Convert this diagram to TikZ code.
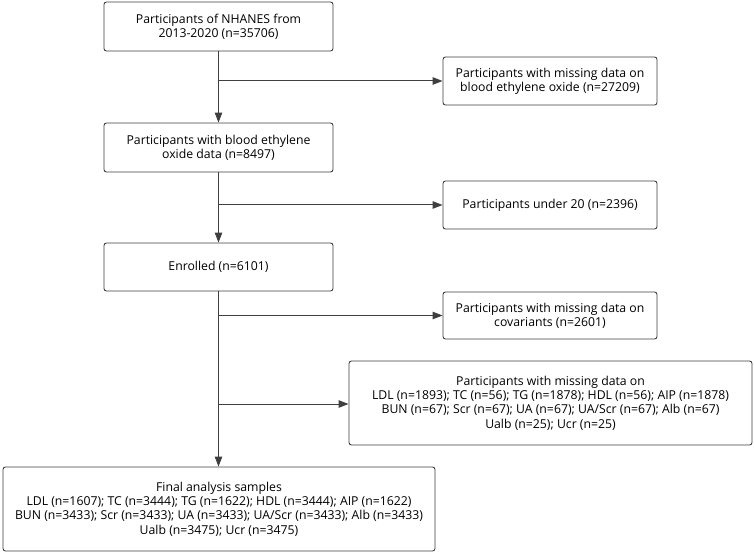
\documentclass[tikz,border=0pt]{standalone}
\usepackage{fontspec}
\setmainfont{Open Sans}
\usetikzlibrary{arrows.meta}
\definecolor{linegray}{HTML}{3F3F3F}
\begin{document}
\begin{tikzpicture}[x=1bp,y=-1bp,
	box/.style={draw=linegray, line width=0.9bp, rounded corners=2.5bp, fill=white, align=center, inner sep=0pt, text=black, font=\fontsize{12.3}{14.4}\selectfont},
	arr/.style={draw=linegray, line width=1bp, -{Triangle[length=10bp,width=7.5bp]}}]

\useasboundingbox (0,0) rectangle (754,554);

% main column
\node[box, minimum width=229bp, minimum height=49bp] (nhanes) at (218.5,26.5) {Participants of NHANES from\\2013-2020 (n=35706)};
\node[box, minimum width=229bp, minimum height=49bp] (eo) at (218.5,147.5) {Participants with blood ethylene\\oxide data (n=8497)};
\node[box, minimum width=229bp, minimum height=48bp] (enrolled) at (218.5,267) {Enrolled (n=6101)};
\node[box, minimum width=432bp, minimum height=84bp] (final) at (219,509) {Final analysis samples\\LDL (n=1607); TC (n=3444); TG (n=1622); HDL (n=3444); AIP (n=1622)\\BUN (n=3433); Scr (n=3433); UA (n=3433); UA/Scr (n=3433); Alb (n=3433)\\Ualb (n=3475); Ucr (n=3475)};

% excluded
\node[box, minimum width=214bp, minimum height=48bp] (misseo) at (550,81) {Participants with missing data on\\blood ethylene oxide (n=27209)};
\node[box, minimum width=214bp, minimum height=48bp] (under) at (550,205) {Participants under 20 (n=2396)};
\node[box, minimum width=214bp, minimum height=47bp] (misscov) at (550,315.5) {Participants with missing data on\\covariants (n=2601)};
\node[box, minimum width=403bp, minimum height=84bp] (missout) at (550.5,403) {Participants with missing data on\\LDL (n=1893); TC (n=56); TG (n=1878); HDL (n=56); AIP (n=1878)\\BUN (n=67); Scr (n=67); UA (n=67); UA/Scr (n=67); Alb (n=67)\\Ualb (n=25); Ucr (n=25)};

\coordinate (b1) at (218.5,81);
\coordinate (b2) at (218.5,205);
\coordinate (b3) at (218.5,315.5);
\coordinate (b4) at (218.5,404);

\draw[arr] (nhanes.south) -- (eo.north);
\draw[arr] (eo.south) -- (enrolled.north);
\draw[arr] (enrolled.south) -- (enrolled.south |- final.north);

\draw[arr] (b1) -- (misseo.west);
\draw[arr] (b2) -- (under.west);
\draw[arr] (b3) -- (misscov.west);
\draw[arr] (b4) -- (b4 -| missout.west);

\end{tikzpicture}
\end{document}
